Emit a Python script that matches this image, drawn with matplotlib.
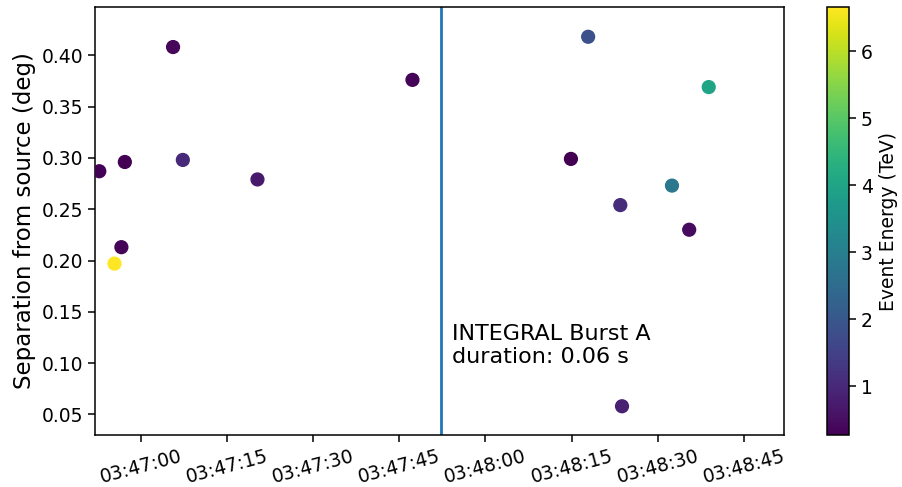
import datetime as dt
import matplotlib
matplotlib.use("Agg")
import matplotlib.pyplot as plt
import matplotlib.dates as mdates

# event times (seconds after 03:47:00), separation (deg), energy (TeV)
event_offsets_s = [-7.25, -2.8, -3.4, -4.6, 5.6, 7.3, 20.3, 47.3,
                   77.9, 98.9, 74.9, 92.5, 83.5, 95.5, 83.8]
separation_deg = [0.287, 0.296, 0.213, 0.197, 0.408, 0.298, 0.279, 0.376,
                  0.418, 0.369, 0.299, 0.273, 0.254, 0.230, 0.058]
energy_tev = [0.30, 0.29, 0.33, 6.65, 0.38, 1.00, 0.70, 0.33,
              1.85, 4.00, 0.28, 2.80, 1.05, 0.45, 0.85]

burst_name = "INTEGRAL Burst A"
burst_duration_s = 0.06
burst_offset_s = 52.2

base = dt.datetime(2020, 1, 1, 3, 47, 0)
times = [base + dt.timedelta(seconds=s) for s in event_offsets_s]
burst_time = base + dt.timedelta(seconds=burst_offset_s)

plt.rcParams["font.size"] = 13.5
plt.rcParams["axes.linewidth"] = 1.1
plt.rcParams["xtick.major.size"] = 5
plt.rcParams["ytick.major.size"] = 5
plt.rcParams["xtick.major.width"] = 1.1
plt.rcParams["ytick.major.width"] = 1.1

fig = plt.figure(figsize=(9.02, 4.87), dpi=100)
ax = fig.add_axes([0.1053, 0.1068, 0.7638, 0.8788])
cax = fig.add_axes([0.917, 0.1068, 0.0244, 0.8788])

sc = ax.scatter(times, separation_deg, c=energy_tev, cmap="viridis", s=85,
                vmin=0.27, vmax=6.66, zorder=3)
ax.axvline(burst_time, color="tab:blue", lw=2)
ax.text(burst_time + dt.timedelta(seconds=2), 0.1,
        f"{burst_name}\nduration: {burst_duration_s} s", fontsize=16)

ax.set_xlim(base - dt.timedelta(seconds=8), base + dt.timedelta(seconds=112))
ax.set_ylim(0.03, 0.447)
ax.xaxis.set_major_locator(mdates.SecondLocator(bysecond=[0, 15, 30, 45]))
ax.xaxis.set_major_formatter(mdates.DateFormatter("%H:%M:%S"))
ax.set_yticks([0.05, 0.10, 0.15, 0.20, 0.25, 0.30, 0.35, 0.40])
ax.set_ylabel("Separation from source (deg)", fontsize=16.5)
for lbl in ax.get_xticklabels():
    lbl.set_rotation(15)
    lbl.set_ha("center")

cb = fig.colorbar(sc, cax=cax)
cb.set_label("Event Energy (TeV)", fontsize=13.5)
cb.outline.set_linewidth(1.1)

fig.savefig("out.png", dpi=100)
